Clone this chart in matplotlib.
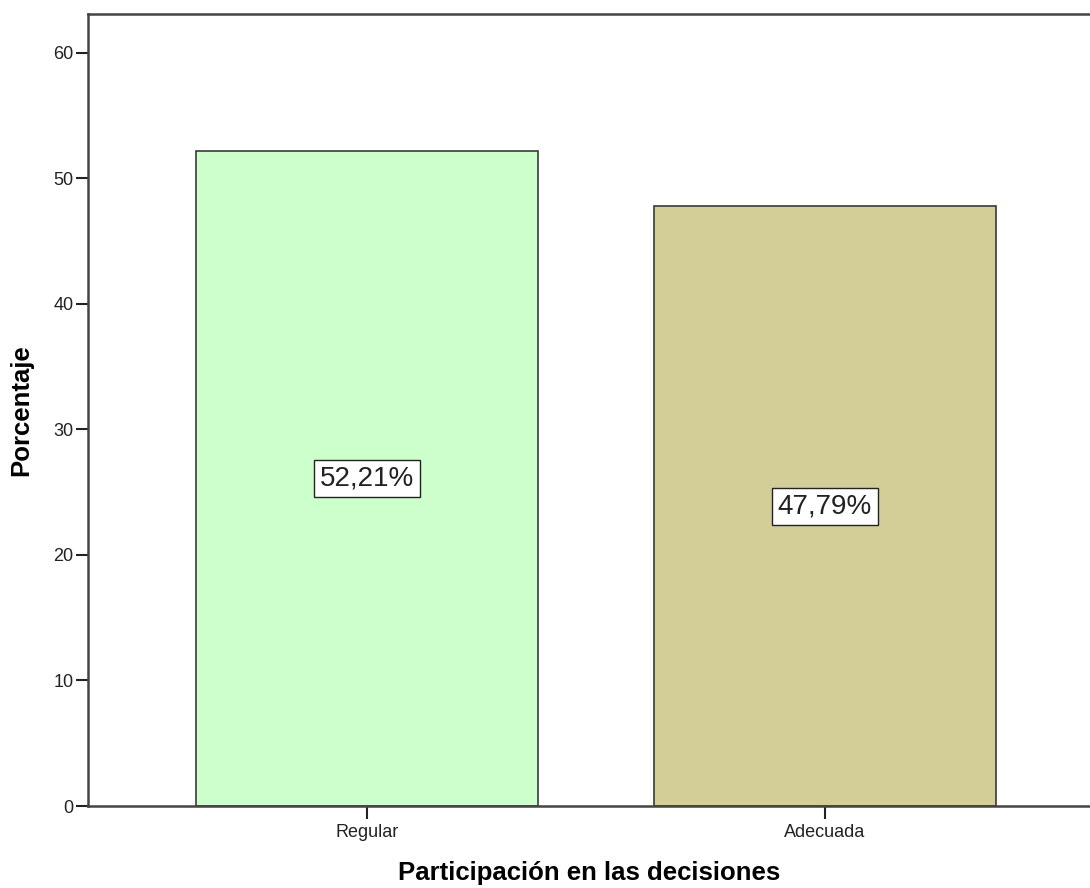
import matplotlib
matplotlib.use("Agg")
import matplotlib.pyplot as plt

categories = ["Regular", "Adecuada"]
values = [52.21, 47.79]
labels = ["52,21%", "47,79%"]
colors = ["#CCFFCC", "#D3CE97"]
yticks = [0, 10, 20, 30, 40, 50, 60]

plt.rcParams['font.family'] = ['Liberation Sans', 'DejaVu Sans']

fig = plt.figure(figsize=(10.9, 8.88), dpi=100)
ax = fig.add_axes([88/1090, (888-806)/888, 1 - 88/1090, (806-14)/888])

x = list(range(len(categories)))
ax.bar(x, values, width=0.747, color=colors, edgecolor="#3a3a3a", linewidth=1.2, zorder=2)
for xi, v, lab in zip(x, values, labels):
    ax.text(xi, v/2, lab, ha="center", va="center", fontsize=20, color="#222222",
            bbox=dict(boxstyle="square,pad=0.2", fc="white", ec="#222222", lw=1.0), zorder=3)

ax.set_xlim(-0.609, 1.579)
ax.set_ylim(0, 63.1)
ax.set_yticks(yticks)
ax.set_xticks(x)
ax.set_xticklabels(categories)
ax.tick_params(axis="both", direction="out", length=9, width=1.5, labelsize=13, colors="#222222")
ax.tick_params(axis="x", pad=4)
ax.tick_params(axis="y", pad=1.5)
for s in ["left", "bottom", "top"]:
    ax.spines[s].set_linewidth(1.8)
    ax.spines[s].set_color("#444444")
ax.spines["right"].set_visible(False)

ax.set_ylabel("Porcentaje", fontsize=18.5, fontweight="bold", labelpad=14)
ax.set_xlabel("Participación en las decisiones", fontsize=18.5, fontweight="bold", labelpad=14)

fig.savefig("out.png", dpi=100)
